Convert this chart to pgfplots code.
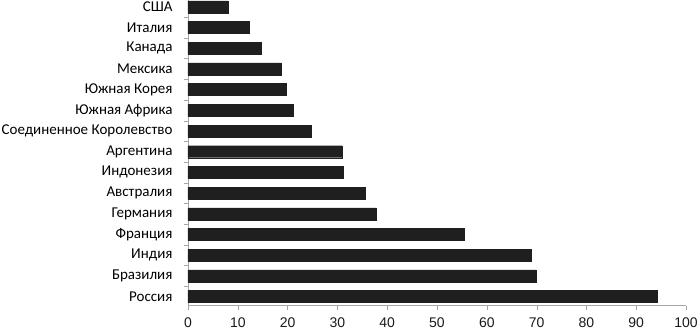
\documentclass[border=0pt]{standalone}
\usepackage{fontspec}
\setmainfont{Carlito}
\newfontfamily\numfont{Liberation Sans}
\usepackage{pgfplots}
\pgfplotsset{compat=1.18}
\definecolor{barc}{HTML}{1F1F1F}
\definecolor{axc}{HTML}{A6A6A6}
\begin{document}
\begin{tikzpicture}
\begin{axis}[
  name=ax,
  scale only axis,
  width=498pt, height=305.7pt,
  xbar, bar width=12pt,
  xmin=0, xmax=100,
  ymin=-0.44, ymax=14.33,
  axis x line*=bottom, axis y line*=left,
  axis line style={axc, line width=0.8pt},
  xtick={0,10,...,100},
  ytick={0,...,14},
  yticklabels={Россия\hspace{5pt}, Бразилия\hspace{1.5pt}, Индия\hspace{3.5pt}, Франция, Германия\hspace{2.5pt}, Австралия\hspace{1.5pt}, Индонезия\hspace{1.5pt}, Аргентина\hspace{1pt}, Соединенное Королевство\hspace{4pt}, Южная Африка\hspace{1.5pt}, Южная Корея\hspace{1.5pt}, Мексика\hspace{1.5pt}, Канада, Италия, США},
  minor ytick={-0.5,0.5,...,13.5},
  tick align=outside,
  major tick length=4pt,
  minor tick length=4pt,
  y tick style={draw=none},
  minor y tick style={axc, draw=axc},
  x tick style={axc},
  yticklabel style={font=\fontsize{15}{15}\selectfont, text=black, xshift=-8pt},
  xticklabel style={font=\numfont\fontsize{14}{14}\selectfont, text=black!90, yshift=-4.5pt},
  /pgf/number format/assume math mode=true,
  clip=false,
]
\addplot[fill=barc, draw=barc] coordinates {
(94.2,0) (69.9,1) (69.0,2) (55.5,3) (37.8,4) (35.5,5) (31.2,6) (30.9,7) (24.7,8) (21.1,9) (19.7,10) (18.7,11) (14.7,12) (12.3,13) (8.1,14)
};
\end{axis}
\pgfresetboundingbox
\path ([shift={(-188pt,-25.3pt)}]ax.south west) rectangle ([shift={(12pt,0pt)}]ax.north east);
\end{tikzpicture}
\end{document}
